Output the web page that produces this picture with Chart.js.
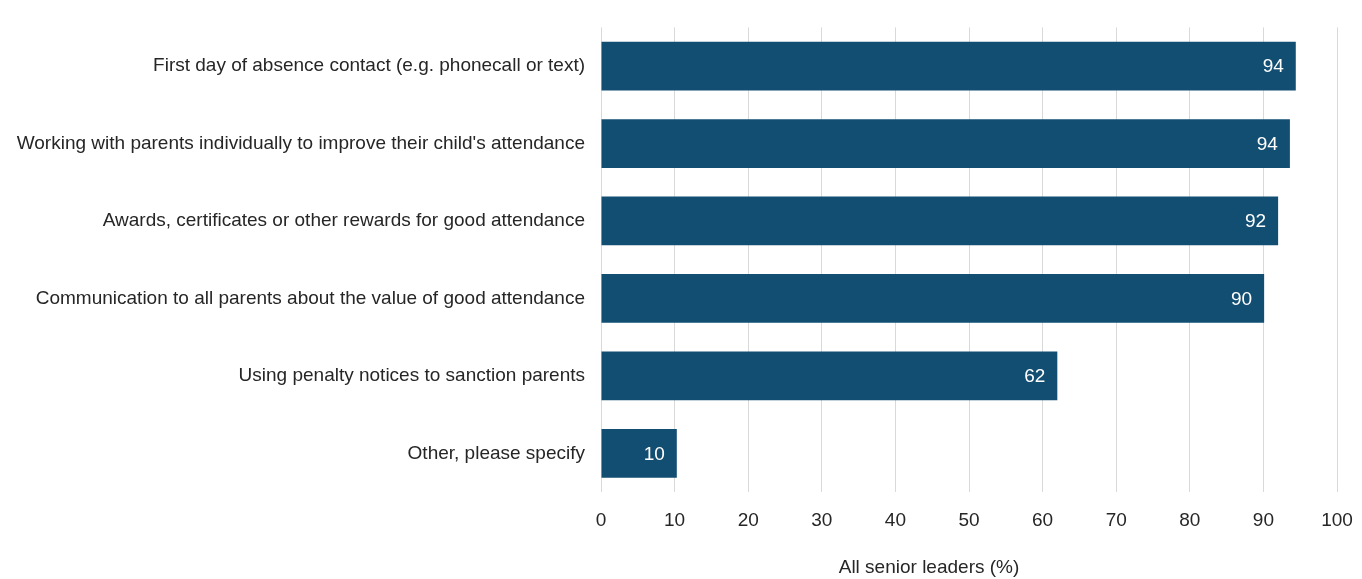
<!DOCTYPE html>
<html>
<head>
<meta charset="utf-8">
<script src="https://cdn.jsdelivr.net/npm/chart.js@4"></script>
<style>
  html, body { margin: 0; padding: 0; background: #fff; }
  #wrap { width: 1362px; height: 579px; }
</style>
</head>
<body>
<div id="wrap"><canvas id="attendanceChart" width="1362" height="579"></canvas></div>
<script>
const categories = [
  "First day of absence contact (e.g. phonecall or text)",
  "Working with parents individually to improve their child's attendance",
  "Awards, certificates or other rewards for good attendance",
  "Communication to all parents about the value of good attendance",
  "Using penalty notices to sanction parents",
  "Other, please specify"
];
const seniorLeaders = [94.4, 93.6, 92.0, 90.1, 62.0, 10.3];
const valueLabels = ["94", "94", "92", "90", "62", "10"];
const xTicks = [0, 10, 20, 30, 40, 50, 60, 70, 80, 90, 100];
const axisTitle = "All senior leaders (%)";

const FONT = "'Liberation Sans', Arial, sans-serif";

// white value labels inside the bar ends
const barValues = {
  id: "barValues",
  afterDatasetsDraw(chart) {
    const ctx = chart.ctx;
    const meta = chart.getDatasetMeta(0);
    ctx.save();
    ctx.font = "19px " + FONT;
    ctx.fillStyle = "#ffffff";
    ctx.textAlign = "right";
    ctx.textBaseline = "middle";
    meta.data.forEach((bar, i) => {
      ctx.fillText(valueLabels[i], bar.x - 12, bar.y + 1);
    });
    ctx.restore();
  }
};

// x axis title sits a bit left of centre in the original
const xTitle = {
  id: "xTitle",
  afterDraw(chart) {
    const ctx = chart.ctx;
    const area = chart.chartArea;
    ctx.save();
    ctx.font = "19px " + FONT;
    ctx.fillStyle = "#262626";
    ctx.textAlign = "center";
    ctx.textBaseline = "middle";
    ctx.fillText(axisTitle, (area.left + area.right) / 2 - 40, 568);
    ctx.restore();
  }
};

const ctx = document.getElementById("attendanceChart").getContext("2d");
new Chart(ctx, {
  type: "bar",
  data: {
    labels: categories,
    datasets: [{
      data: seniorLeaders,
      backgroundColor: "#124e72",
      borderWidth: 0,
      barPercentage: 0.63,
      categoryPercentage: 1
    }]
  },
  options: {
    indexAxis: "y",
    responsive: false,
    animation: false,
    layout: { padding: { top: 27, right: 25, bottom: 0, left: 0 } },
    plugins: {
      legend: { display: false },
      tooltip: { enabled: false }
    },
    scales: {
      x: {
        min: 0,
        max: 100,
        afterBuildTicks: axis => { axis.ticks = xTicks.map(v => ({ value: v })); },
        grid: { color: "#d9d9d9", drawTicks: false, lineWidth: 1 },
        border: { display: false },
        ticks: { color: "#262626", font: { family: FONT, size: 19 }, padding: 17 },
        afterFit: axis => {
          axis.height = 87;
          axis.paddingLeft = 0;
          axis.paddingRight = 0;
        }
      },
      y: {
        grid: { display: false, drawTicks: false },
        border: { display: false },
        ticks: { color: "#262626", font: { family: FONT, size: 19 }, padding: 16 },
        afterFit: axis => { axis.width = 601; }
      }
    }
  },
  plugins: [barValues, xTitle]
});
</script>
</body>
</html>
